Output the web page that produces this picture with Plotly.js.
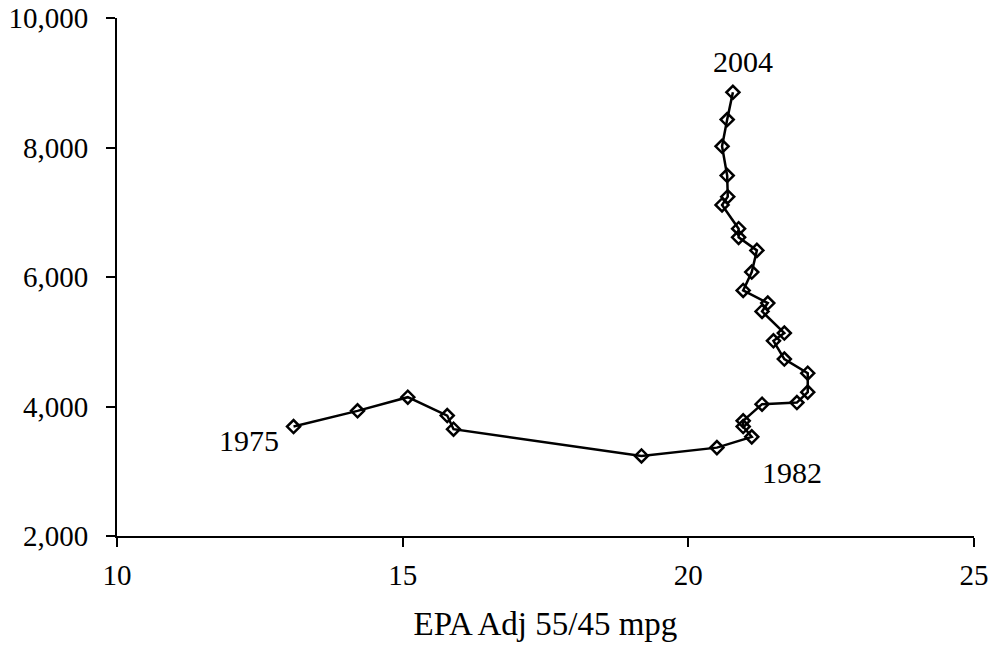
<!DOCTYPE html>
<html>
<head>
<meta charset="utf-8">
<script src="https://cdn.plot.ly/plotly-3.0.1.min.js"></script>
<style>
  html, body { margin: 0; padding: 0; background: #fff; }
  #chart { width: 993px; height: 656px; }
</style>
</head>
<body>
<div id="chart"></div>
<script>
const years = [1975, 1976, 1977, 1978, 1979, 1980, 1981, 1982, 1983, 1984, 1985, 1986, 1987, 1988, 1989,
  1990, 1991, 1992, 1993, 1994, 1995, 1996, 1997, 1998, 1999, 2000, 2001, 2002, 2003, 2004];
const mpg = [13.09, 14.21, 15.09, 15.78, 15.89, 19.18, 20.50, 21.11, 20.96, 20.96, 21.29, 21.90, 22.09, 22.09, 21.68,
  21.49, 21.68, 21.29, 21.39, 20.96, 21.11, 21.20, 20.88, 20.88, 20.59, 20.69, 20.68, 20.59, 20.68, 20.78];
const weight = [3690, 3933, 4144, 3860, 3650, 3237, 3365, 3531, 3690, 3778, 4036, 4061, 4222, 4515, 4732,
  5015, 5134, 5468, 5598, 5792, 6077, 6411, 6612, 6746, 7113, 7241, 7566, 8019, 8431, 8853];
const labelYears = [1975, 1982, 2004];
const labelX = [12.31, 21.82, 20.96];
const labelY = [3469, 2982, 9328];

const fontFam = '"Liberation Serif", "Times New Roman", serif';

const trace = {
  x: mpg,
  y: weight,
  text: years.map(String),
  type: 'scatter',
  mode: 'lines+markers',
  line: { color: '#000', width: 2.5 },
  marker: { symbol: 'diamond-open', size: 10, color: '#000', line: { color: '#000', width: 2.5 } },
  hoverinfo: 'x+y+text'
};

const annotations = labelYears.map((yr, i) => ({
  x: labelX[i], y: labelY[i], xref: 'x', yref: 'y',
  text: String(yr), showarrow: false,
  xanchor: 'center', yanchor: 'middle',
  font: { family: fontFam, size: 30, color: '#000' }
}));

const layout = {
  width: 993, height: 656,
  margin: { l: 117, r: 19, t: 18, b: 120 },
  paper_bgcolor: '#fff', plot_bgcolor: '#fff',
  showlegend: false,
  font: { family: fontFam, size: 29, color: '#000' },
  xaxis: {
    range: [10, 25], dtick: 5, tick0: 10,
    showgrid: false, zeroline: false,
    showline: true, linecolor: '#000', linewidth: 2,
    ticks: 'outside', ticklen: 9, tickwidth: 2, tickcolor: '#000',
    tickfont: { family: fontFam, size: 29, color: '#000' },
    ticklabelstandoff: 3,
    title: { text: 'EPA Adj 55/45 mpg', font: { family: fontFam, size: 33, color: '#000' }, standoff: 22 }
  },
  yaxis: {
    range: [2000, 10000], dtick: 2000, tick0: 2000,
    tickformat: ',',
    showgrid: false, zeroline: false,
    showline: true, linecolor: '#000', linewidth: 2,
    ticks: 'outside', ticklen: 9, tickwidth: 2, tickcolor: '#000',
    tickfont: { family: fontFam, size: 29, color: '#000' },
    ticklabelstandoff: 12
  },
  annotations: annotations
};

Plotly.newPlot('chart', [trace], layout, { displayModeBar: false, staticPlot: true });
</script>
</body>
</html>
